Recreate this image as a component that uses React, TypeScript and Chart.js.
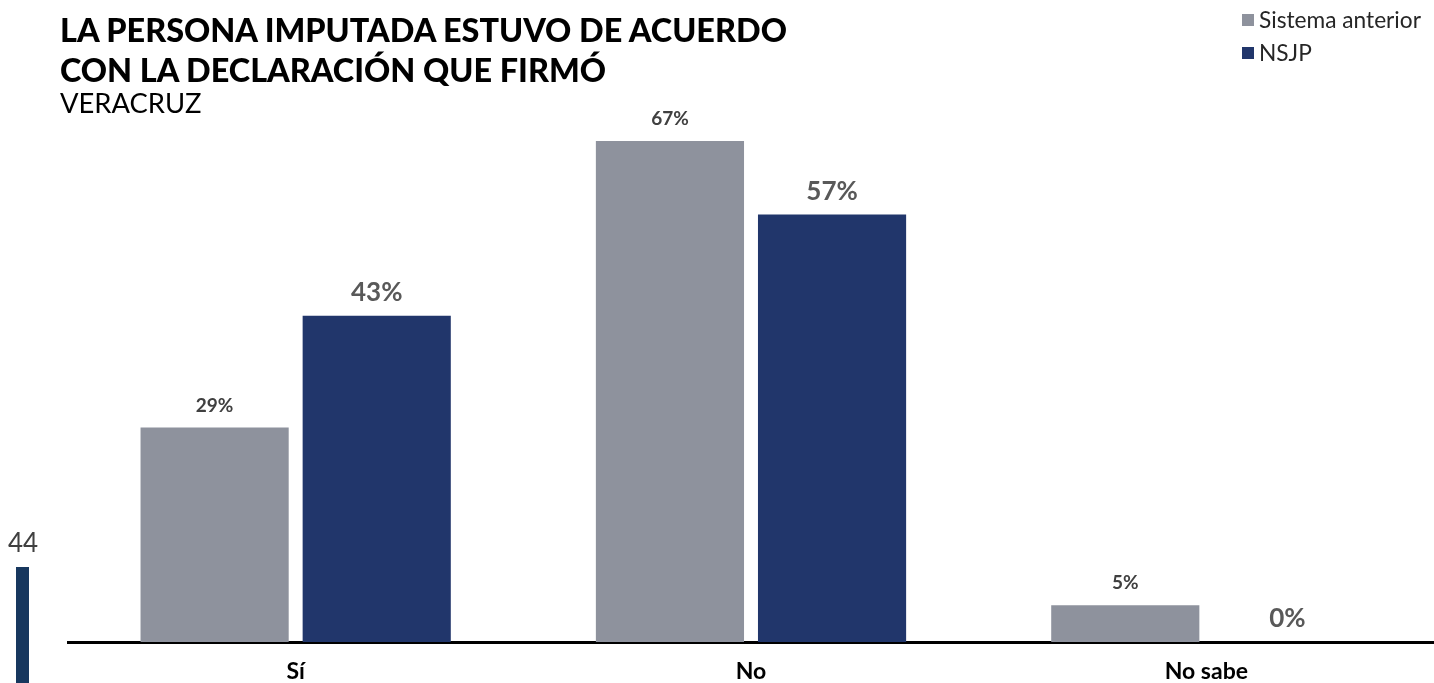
import React, { useEffect, useRef } from "react";
import { Chart, registerables } from "chart.js";

Chart.register(...registerables);

const categories = ["Sí", "No", "No sabe"];
const seriesNames = ["Sistema anterior", "NSJP"];
const sistemaAnterior = [28.6, 66.8, 4.9];
const nsjp = [43.5, 57.0, 0];
const valueLabels = [
  ["29%", "67%", "5%"],
  ["43%", "57%", "0%"],
];
const colors = ["#8e929d", "#21366b"];

const titleLines = ["LA PERSONA IMPUTADA ESTUVO DE ACUERDO", "CON LA DECLARACIÓN QUE FIRMÓ"];
const subtitle = "VERACRUZ";
const pageNumber = "44";

const labelPlugin = {
  id: "barLabels",
  afterDatasetsDraw(chart: any) {
    const ctx = chart.ctx;
    chart.data.datasets.forEach((ds: any, di: number) => {
      const meta = chart.getDatasetMeta(di);
      meta.data.forEach((bar: any, i: number) => {
        const txt = valueLabels[di][i];
        ctx.save();
        ctx.textAlign = "center";
        ctx.textBaseline = "middle";
        if (di === 0) {
          ctx.font = "bold 19px Lato";
          ctx.fillStyle = "#404040";
          ctx.fillText(txt, bar.x, bar.y - 22);
        } else {
          ctx.font = "bold 26px Lato";
          ctx.fillStyle = "#595959";
          ctx.fillText(txt, bar.x, bar.y - 23);
        }
        ctx.restore();
      });
    });
  },
};

export default function App() {
  const ref = useRef<HTMLCanvasElement>(null);
  useEffect(() => {
    if (!ref.current) return;
    const chart = new Chart(ref.current, {
      type: "bar",
      data: {
        labels: categories,
        datasets: [
          {
            label: seriesNames[0],
            data: sistemaAnterior,
            backgroundColor: colors[0],
            categoryPercentage: 0.712,
            barPercentage: 0.914,
          },
          {
            label: seriesNames[1],
            data: nsjp,
            backgroundColor: colors[1],
            categoryPercentage: 0.712,
            barPercentage: 0.914,
          },
        ],
      },
      options: {
        responsive: false,
        animation: false,
        layout: { padding: { left: 68, right: 0, top: 102, bottom: 0 } },
        plugins: {
          legend: { display: false },
          tooltip: { enabled: false },
          title: { display: false },
        },
        scales: {
          x: {
            grid: { display: false, drawTicks: false },
            border: { display: true, color: "#000000", width: 3 },
            afterFit: (scale: any) => {
              scale.height = 41;
            },
            ticks: {
              padding: 16,
              color: "#000000",
              font: { family: "Lato", size: 23, weight: "bold" },
            },
          },
          y: {
            display: false,
            min: 0,
            max: 72,
          },
        },
      },
      plugins: [labelPlugin],
    });
    return () => chart.destroy();
  }, []);

  return (
    <div style={{ position: "absolute", left: 0, top: 0, width: 1434, height: 683, background: "#fff", overflow: "hidden", fontFamily: "Lato" }}>
      <canvas ref={ref} width={1434} height={683} style={{ position: "absolute", left: 0, top: 0 }} />
      <div style={{ position: "absolute", left: 60, top: 10, fontWeight: 900, fontSize: 32.4, lineHeight: "40px", color: "#000" }}>
        {titleLines.map((l, i) => (
          <div key={i}>{l}</div>
        ))}
      </div>
      <div style={{ position: "absolute", left: 60, top: 87, fontSize: 27.4, lineHeight: "32px", color: "#000" }}>{subtitle}</div>
      <div style={{ position: "absolute", left: 1242, top: 3, fontSize: 22.7, lineHeight: "33px", color: "#262626" }}>
        {seriesNames.map((n, i) => (
          <div key={i} style={{ display: "flex", alignItems: "center" }}>
            <span style={{ display: "inline-block", width: 12, height: 12, background: colors[i], marginRight: 5 }} />
            <span>{n}</span>
          </div>
        ))}
      </div>
      <div style={{ position: "absolute", left: 8, top: 527, fontSize: 26, lineHeight: "30px", color: "#404040", fontWeight: 400 }}>{pageNumber}</div>
      <div style={{ position: "absolute", left: 16, top: 567, width: 13, height: 116, background: "#17375e" }} />
    </div>
  );
}
